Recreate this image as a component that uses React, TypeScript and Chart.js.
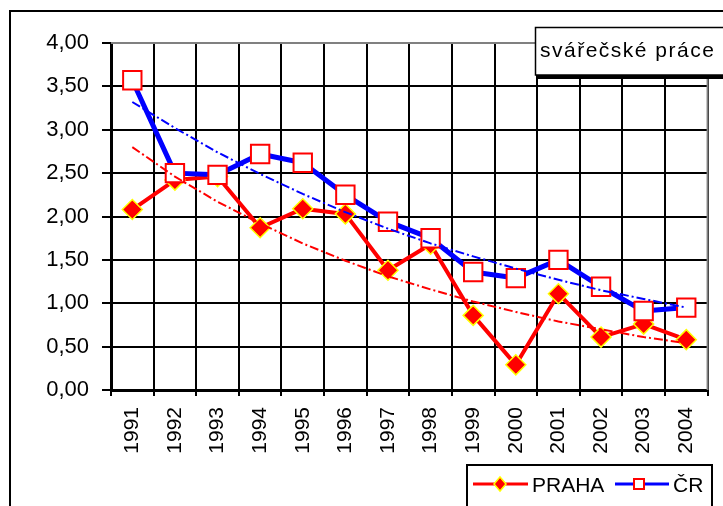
import React, { useEffect, useRef } from "react";
import { Chart, registerables } from "chart.js";

Chart.register(...registerables);

const years = ["1991", "1992", "1993", "1994", "1995", "1996", "1997", "1998", "1999", "2000", "2001", "2002", "2003", "2004"];
const praha = [2.08, 2.42, 2.46, 1.87, 2.09, 2.03, 1.38, 1.68, 0.86, 0.29, 1.11, 0.61, 0.76, 0.58];
const cr = [3.57, 2.5, 2.48, 2.72, 2.62, 2.25, 1.94, 1.75, 1.36, 1.29, 1.5, 1.19, 0.91, 0.95];
const prahaTrend = [2.8, 2.46, 2.17, 1.92, 1.69, 1.49, 1.31, 1.16, 1.02, 0.9, 0.79, 0.7, 0.61, 0.54];
const crTrend = [3.32, 3.02, 2.74, 2.49, 2.26, 2.05, 1.86, 1.69, 1.54, 1.4, 1.27, 1.15, 1.05, 0.95];
const yTickValues = [0, 0.5, 1, 1.5, 2, 2.5, 3, 3.5, 4];
const yTickLabels = ["0,00", "0,50", "1,00", "1,50", "2,00", "2,50", "3,00", "3,50", "4,00"];
const titleText = "svářečské práce";
const legendPraha = "PRAHA";
const legendCr = "ČR";

const FONT = "'Liberation Sans', Arial, sans-serif";

const decor = {
  id: "decor",
  beforeDatasetsDraw(chart: any) {
    const { ctx, chartArea } = chart;
    ctx.save();
    ctx.strokeStyle = "#808080";
    ctx.lineWidth = 2;
    ctx.beginPath();
    ctx.moveTo(chartArea.left, chartArea.top);
    ctx.lineTo(chartArea.right, chartArea.top);
    ctx.lineTo(chartArea.right, chartArea.bottom);
    ctx.stroke();
    ctx.restore();
  },
  afterDraw(chart: any) {
    const { ctx } = chart;
    ctx.save();
    // outer frame
    ctx.strokeStyle = "#000";
    ctx.lineWidth = 2;
    ctx.beginPath();
    ctx.moveTo(10, 520);
    ctx.lineTo(10, 11);
    ctx.lineTo(740, 11);
    ctx.stroke();

    // title box
    ctx.fillStyle = "#000";
    ctx.fillRect(538, 75, 200, 4);
    ctx.fillStyle = "#fff";
    ctx.fillRect(535, 27, 200, 48);
    ctx.lineWidth = 1.5;
    ctx.strokeRect(535.5, 27.5, 200, 47.5);
    ctx.fillStyle = "#000";
    ctx.font = `21px ${FONT}`;
    (ctx as any).letterSpacing = "1.5px";
    ctx.textBaseline = "middle";
    ctx.textAlign = "left";
    ctx.fillText(titleText, 540, 51);
    (ctx as any).letterSpacing = "0px";

    // legend box
    ctx.fillStyle = "#fff";
    ctx.fillRect(467, 465, 245, 60);
    ctx.lineWidth = 2;
    ctx.strokeStyle = "#000";
    ctx.strokeRect(467, 465, 245, 60);

    // PRAHA item
    ctx.strokeStyle = "#FF0000";
    ctx.lineWidth = 3;
    ctx.beginPath();
    ctx.moveTo(473, 484);
    ctx.lineTo(528, 484);
    ctx.stroke();
    ctx.beginPath();
    ctx.moveTo(500 - 6, 484);
    ctx.lineTo(500, 484 - 7);
    ctx.lineTo(500 + 6, 484);
    ctx.lineTo(500, 484 + 7);
    ctx.closePath();
    ctx.fillStyle = "#FF0000";
    ctx.fill();
    ctx.strokeStyle = "#FFFF00";
    ctx.lineWidth = 1.5;
    ctx.stroke();
    ctx.fillStyle = "#000";
    ctx.textBaseline = "alphabetic";
    ctx.fillText(legendPraha, 532, 492);

    // CR item
    ctx.strokeStyle = "#0000FF";
    ctx.lineWidth = 3;
    ctx.beginPath();
    ctx.moveTo(615, 484);
    ctx.lineTo(669, 484);
    ctx.stroke();
    ctx.fillStyle = "#fff";
    ctx.fillRect(633, 478, 12, 12);
    ctx.strokeStyle = "#FF0000";
    ctx.lineWidth = 2;
    ctx.strokeRect(634, 479, 10, 10);
    ctx.fillStyle = "#000";
    ctx.fillText(legendCr, 673, 492);
    ctx.restore();
  },
};

export default function App() {
  const ref = useRef<HTMLCanvasElement | null>(null);
  useEffect(() => {
    if (!ref.current) return;
    const font = { family: FONT, size: 22 };
    const chart = new Chart(ref.current, {
      type: "line",
      data: {
        labels: years,
        datasets: [
          {
            label: "trend ČR",
            data: crTrend,
            borderColor: "#0000FF",
            borderWidth: 2,
            borderDash: [9, 3, 2, 3],
            pointRadius: 0,
            fill: false,
            tension: 0,
          },
          {
            label: "trend PRAHA",
            data: prahaTrend,
            borderColor: "#FF0000",
            borderWidth: 2,
            borderDash: [9, 3, 2, 3],
            pointRadius: 0,
            fill: false,
            tension: 0,
          },
          {
            label: legendCr,
            data: cr,
            borderColor: "#0000FF",
            borderWidth: 5,
            borderJoinStyle: "round",
            borderCapStyle: "round",
            pointStyle: "rect",
            pointRadius: 13,
            pointBackgroundColor: "#FFFFFF",
            pointBorderColor: "#FF0000",
            pointBorderWidth: 2,
            fill: false,
            tension: 0,
          },
          {
            label: legendPraha,
            data: praha,
            borderColor: "#FF0000",
            borderWidth: 4,
            borderJoinStyle: "round",
            borderCapStyle: "round",
            pointStyle: "rectRot",
            pointRadius: 10,
            pointBackgroundColor: "#FF0000",
            pointBorderColor: "#FFFF00",
            pointBorderWidth: 1.5,
            fill: false,
            tension: 0,
          },
        ],
      },
      options: {
        responsive: false,
        animation: false,
        devicePixelRatio: 1,
        layout: { padding: { top: 43, right: 10, left: 0, bottom: 0 } },
        plugins: { legend: { display: false }, tooltip: { enabled: false }, title: { display: false } },
        scales: {
          x: {
            offset: true,
            grid: { offset: true, color: "#000", lineWidth: 2, tickLength: 6, tickColor: "#000" },
            border: { color: "#000", width: 3 },
            ticks: { color: "#000", font: { family: FONT, size: 21 }, maxRotation: 90, minRotation: 90, padding: 11, autoSkip: false },
            afterFit: (s: any) => {
              s.height = 116;
            },
          },
          y: {
            min: 0,
            max: 4,
            afterBuildTicks: (s: any) => {
              s.ticks = yTickValues.map((v) => ({ value: v }));
            },
            ticks: {
              color: "#000",
              font,
              padding: 13,
              callback: (v: any) => {
                const i = yTickValues.indexOf(Number(v));
                return i >= 0 ? yTickLabels[i] : "";
              },
            },
            grid: {
              color: (c: any) => (c.tick && c.tick.value === 4 ? "#808080" : "#000"),
              lineWidth: 2,
              tickLength: 9,
              tickColor: "#000",
            },
            border: { color: "#000", width: 3 },
            afterFit: (s: any) => {
              s.width = 111;
            },
          },
        },
      },
      plugins: [decor],
    } as any);
    return () => chart.destroy();
  }, []);
  return (
    <div style={{ position: "absolute", left: 0, top: 0, width: 723, height: 506, background: "#fff" }}>
      <canvas ref={ref} width={723} height={506} />
    </div>
  );
}
